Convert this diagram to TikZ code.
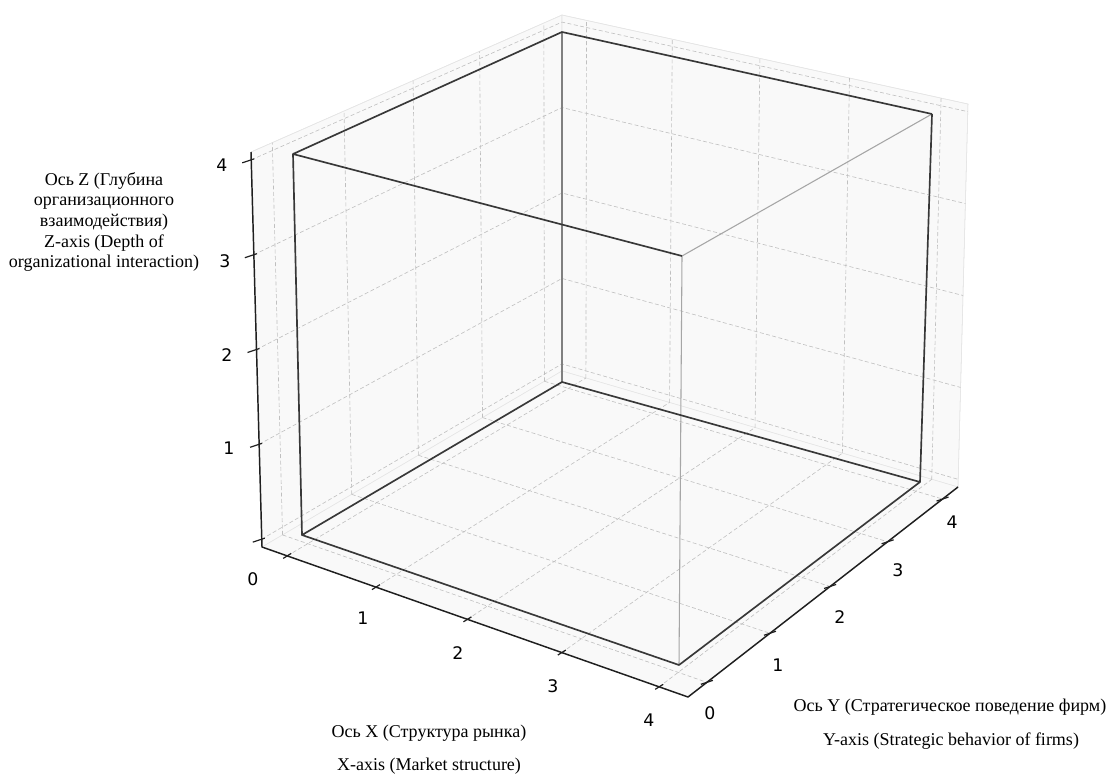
\documentclass[tikz,border=0pt]{standalone}
\usepackage{fontspec}
\setmainfont{Liberation Serif}
\newfontfamily\ticksfont{DejaVu Sans}
\usetikzlibrary{calc}
\begin{document}
\begin{tikzpicture}[x=0.75pt,y=-0.75pt,
  pane/.style={fill=black!2.5, draw=black!10, line width=0.4pt},
  gridln/.style={draw=black!25, line width=0.45pt, dash pattern=on 3pt off 1.8pt},
  edgedark/.style={draw=black!78, line width=1.25pt, line join=round},
  edgelight/.style={draw=black!35, line width=0.8pt},
  axisline/.style={draw=black!88, line width=1.1pt, line join=round},
  tickmark/.style={draw=black!88, line width=0.9pt},
  ticklabel/.style={font=\ticksfont\fontsize{13}{15}\selectfont, inner sep=0pt},
  axlabel/.style={font=\fontsize{13.5}{15.4}\selectfont, align=center, inner sep=0pt}]
\useasboundingbox (0,0) rectangle (1113,774);
% pane corners
\coordinate (Q000) at (262,547);
\coordinate (Q100) at (688,697);
\coordinate (Q110) at (958,487);
\coordinate (Q010) at (562,371);
\coordinate (Q001) at (251,152);
\coordinate (Q011) at (562,15);
\coordinate (Q111) at (968,104);
\def\Wa{2.625}\def\Wb{2.445}\def\Wc{2.717}\def\Wd{2.857}
% panes
\fill[pane] (Q000) -- (Q010) -- (Q011) -- (Q001) -- cycle;
\fill[pane] (Q010) -- (Q110) -- (Q111) -- (Q011) -- cycle;
\fill[pane] (Q000) -- (Q100) -- (Q110) -- (Q010) -- cycle;
\draw[pane, fill=none] (Q001) -- (Q011) -- (Q111) -- (Q110);
% grid
\foreach \v in {0,...,4}{
  \pgfmathsetmacro\t{(\v+0.29)/4.58}
  \pgfmathsetmacro\fL{\t*\Wd/((1-\t)*\Wa+\t*\Wd)}
  \pgfmathsetmacro\fB{\t*\Wc/((1-\t)*\Wd+\t*\Wc)}
  \pgfmathsetmacro\fF{\t*\Wb/((1-\t)*\Wa+\t*\Wb)}
  \pgfmathsetmacro\fR{\t*\Wc/((1-\t)*\Wb+\t*\Wc)}
  \pgfmathsetmacro\s{(\v+0.083)/4.166}
  \draw[gridln] ($(Q000)!\fL!(Q010)$) -- ($(Q001)!\fL!(Q011)$);
  \draw[gridln] ($(Q010)!\fB!(Q110)$) -- ($(Q011)!\fB!(Q111)$);
  \draw[gridln] ($(Q000)!\fF!(Q100)$) -- ($(Q010)!\fB!(Q110)$);
  \draw[gridln] ($(Q000)!\fL!(Q010)$) -- ($(Q100)!\fR!(Q110)$);
  \draw[gridln] ($(Q000)!\s!(Q001)$) -- ($(Q010)!\s!(Q011)$) -- ($(Q110)!\s!(Q111)$);
}
% cube
\coordinate (c000) at (302,535);
\coordinate (c400) at (679,665);
\coordinate (c440) at (920,482);
\coordinate (c040) at (562,382);
\coordinate (c004) at (293,154);
\coordinate (c404) at (682,256);
\coordinate (c444) at (932,114);
\coordinate (c044) at (562,32);
\draw[edgelight, draw=black!50] (c040) -- (c044);
\draw[edgelight] (c400) -- (c404) -- (c444);
\draw[edgedark] (c000) -- (c400) -- (c440) -- (c040) -- cycle;
\draw[edgedark] (c000) -- (c004);
\draw[edgedark] (c440) -- (c444);
\draw[edgedark] (c404) -- (c004) -- (c044) -- (c444);
% axes
\draw[axisline] (Q001) -- (Q000) -- (Q100) -- (Q110);
% ticks
\foreach \v in {0,...,4}{
  \pgfmathsetmacro\t{(\v+0.29)/4.58}
  \pgfmathsetmacro\fF{\t*\Wb/((1-\t)*\Wa+\t*\Wb)}
  \pgfmathsetmacro\fR{\t*\Wc/((1-\t)*\Wb+\t*\Wc)}
  \pgfmathsetmacro\s{(\v+0.083)/4.166}
  \coordinate (zt\v) at ($(Q000)!\s!(Q001)$);
  \coordinate (xt\v) at ($(Q000)!\fF!(Q100)$);
  \coordinate (yt\v) at ($(Q100)!\fR!(Q110)$);
  \draw[tickmark] ($(zt\v)+(-9,3)$) -- ($(zt\v)+(3,-1)$);
  \draw[tickmark] ($(xt\v)+(-4,2.5)$) -- ($(xt\v)+(4,-2.5)$);
  \draw[tickmark] ($(yt\v)+(-6,2)$) -- ($(yt\v)+(6,-2)$);
}
% tick labels
\node[ticklabel] (zl4) at (222,165) {4};
\node[ticklabel] (zl3) at (225,261) {3};
\node[ticklabel] (zl2) at (227,355) {2};
\node[ticklabel] (zl1) at (229,448) {1};
\node[ticklabel] (xl0) at (253,579) {0};
\node[ticklabel] (xl1) at (363,618) {1};
\node[ticklabel] (xl2) at (458,653) {2};
\node[ticklabel] (xl3) at (553,686) {3};
\node[ticklabel] (xl4) at (649,720) {4};
\node[ticklabel] (yl0) at (710,713) {0};
\node[ticklabel] (yl1) at (778,665) {1};
\node[ticklabel] (yl2) at (840,617) {2};
\node[ticklabel] (yl3) at (898,570) {3};
\node[ticklabel] (yl4) at (952,522) {4};
% axis labels
\node[axlabel] (zlab) at (104,222) {Ось Z (Глубина\\организационного\\взаимодействия)\\Z-axis (Depth of\\organizational interaction)};
\node[axlabel] (xlab1) at (429,733) {Ось X (Структура рынка)};
\node[axlabel] (xlab2) at (429,766) {X-axis (Market structure)};
\node[axlabel] (ylab1) at (950,707) {Ось Y (Стратегическое поведение фирм)};
\node[axlabel] (ylab2) at (951,741) {Y-axis (Strategic behavior of firms)};
\end{tikzpicture}
\end{document}
